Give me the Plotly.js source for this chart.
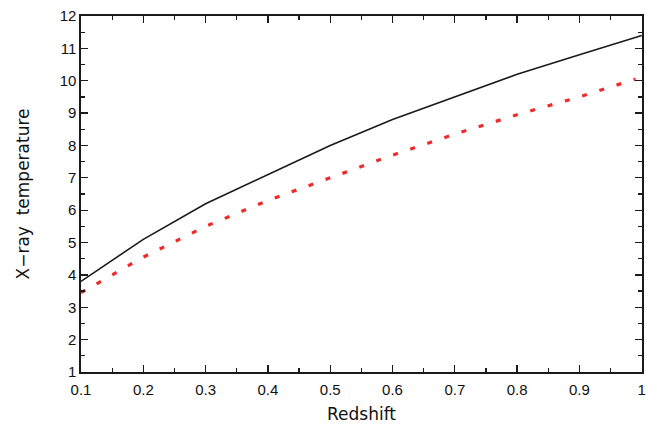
<!DOCTYPE html>
<html>
<head>
<meta charset="utf-8">
<script src="https://cdn.plot.ly/plotly-3.0.1.min.js"></script>
<style>html,body{margin:0;padding:0;background:#fff;}#chart{width:646px;height:424px;}</style>
</head>
<body>
<div id="chart"></div>
<script>
var redshift = [0.1, 0.2, 0.3, 0.4, 0.5, 0.6, 0.7, 0.8, 0.9, 1.0];
var tempSolid = [3.8, 5.1, 6.2, 7.1, 8.0, 8.8, 9.5, 10.2, 10.8, 11.4];
var redshiftDotted = [0.1, 0.2, 0.3, 0.4, 0.5, 0.6, 0.7, 0.8, 0.9, 0.99];
var tempDotted = [3.45, 4.55, 5.5, 6.3, 7.0, 7.7, 8.35, 8.95, 9.5, 10.05];
var xTickVals = [0.1, 0.2, 0.3, 0.4, 0.5, 0.6, 0.7, 0.8, 0.9, 1.0];
var xTickText = ['0.1', '0.2', '0.3', '0.4', '0.5', '0.6', '0.7', '0.8', '0.9', '1'];
var yTickVals = [1, 2, 3, 4, 5, 6, 7, 8, 9, 10, 11, 12];

var traces = [
  {x: redshift, y: tempSolid, mode: 'lines', line: {color: '#1a1a1a', width: 1.6}, hoverinfo: 'skip'},
  {x: redshiftDotted, y: tempDotted, mode: 'lines', line: {color: '#ee2a2a', width: 3.2, dash: '5px,13px'}, hoverinfo: 'skip'}
];

var axisCommon = {
  showgrid: false, zeroline: false, showline: true, linecolor: '#1a1a1a', linewidth: 1.6,
  mirror: 'ticks', ticks: 'inside', ticklen: 7, tickwidth: 1.3, tickcolor: '#1a1a1a',
  ticklabeloverflow: 'allow',
  tickfont: {family: 'Liberation Sans, Arial, sans-serif', size: 15, color: '#111'}
};
var titleFont = {family: 'DejaVu Sans, sans-serif', size: 17, color: '#111'};

var layout = {
  width: 646, height: 424,
  margin: {l: 81, r: 4, t: 16, b: 52},
  paper_bgcolor: '#fff', plot_bgcolor: '#fff',
  showlegend: false,
  xaxis: Object.assign({}, axisCommon, {
    range: [0.1, 1.0004], tickmode: 'array', tickvals: xTickVals, ticktext: xTickText,
    ticklabelstandoff: 3,
    minor: {tickmode: 'linear', tick0: 0.05, dtick: 0.05, ticks: 'inside', ticklen: 4, tickwidth: 1.2, tickcolor: '#1a1a1a'},
    title: {text: 'Redshift', font: titleFont, standoff: 19}
  }),
  yaxis: Object.assign({}, axisCommon, {
    range: [1, 12], tickmode: 'array', tickvals: yTickVals,
    minor: {tickmode: 'linear', tick0: 0.5, dtick: 0.5, ticks: 'inside', ticklen: 4, tickwidth: 1.2, tickcolor: '#1a1a1a'},
    title: {text: 'X\u2212ray  temperature', font: titleFont, standoff: 26}
  })
};

Plotly.newPlot('chart', traces, layout, {staticPlot: true, displayModeBar: false});
</script>
</body>
</html>
